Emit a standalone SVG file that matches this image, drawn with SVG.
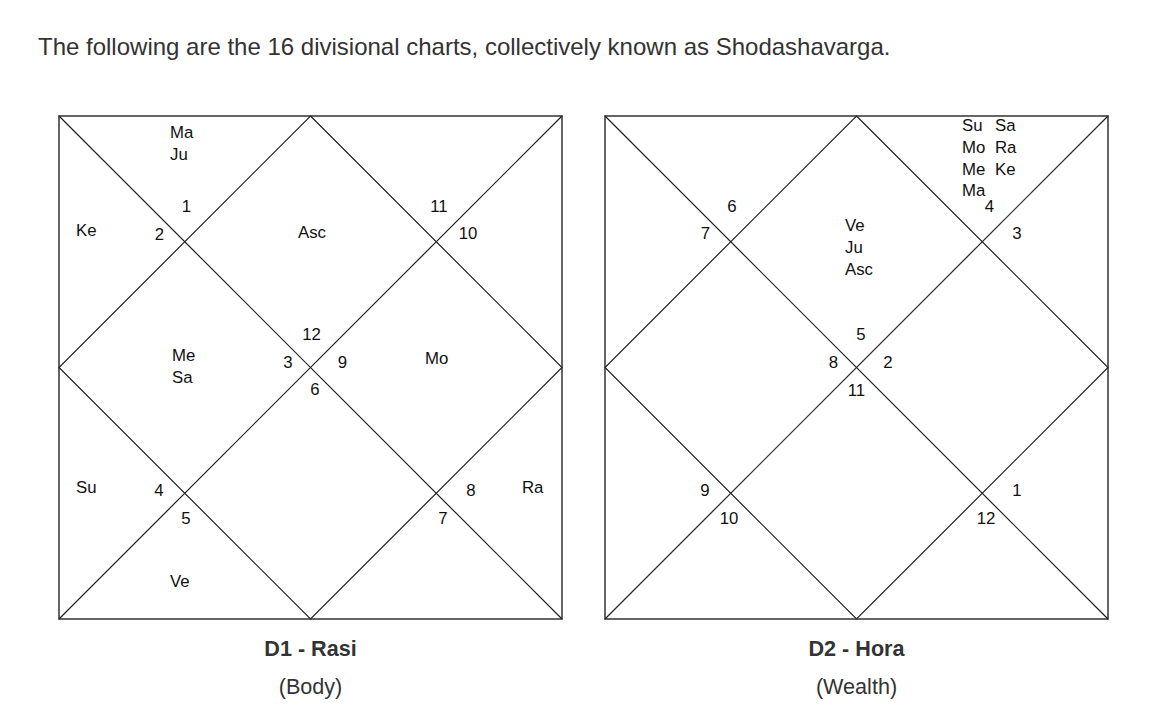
<svg xmlns="http://www.w3.org/2000/svg" width="1151" height="724" viewBox="0 0 1151 724">
<style>
text{font-family:"Liberation Sans",Arial,sans-serif;}
.title{font-size:24px;fill:#333;}
.t{font-size:16.8px;fill:#111;}
.n{font-size:16.8px;fill:#111;text-anchor:middle;}
.lbl{font-size:21.6px;fill:#333;text-anchor:middle;font-weight:bold;}
.sub{font-size:21.6px;fill:#333;text-anchor:middle;}
.border{fill:none;stroke:#555;stroke-width:1.8;}
.ln{fill:none;stroke:#222;stroke-width:1.2;}
</style>
<defs>
<g id="chartLines">
<rect class="border" x="0" y="0" width="503" height="503"/>
<line class="ln" x1="0" y1="0" x2="503" y2="503"/>
<line class="ln" x1="503" y1="0" x2="0" y2="503"/>
<polygon class="ln" points="251.5,0 503,251.5 251.5,503 0,251.5"/>
</g>
</defs>
<rect x="0" y="0" width="1151" height="724" fill="#fff"/>
<text id="title" class="title" x="38" y="55">The following are the 16 divisional charts, collectively known as Shodashavarga.</text>

<g id="connectors">
<use href="#chartLines" x="59" y="116"/>
<use href="#chartLines" x="605" y="116"/>
</g>

<g id="chart-d1">
<text class="t" x="170" y="138">Ma</text>
<text class="t" x="170" y="159.5">Ju</text>
<text class="t" x="76" y="236">Ke</text>
<text class="t" x="298" y="237.5">Asc</text>
<text class="t" x="172" y="361">Me</text>
<text class="t" x="172" y="383">Sa</text>
<text class="t" x="425" y="364">Mo</text>
<text class="t" x="76" y="493">Su</text>
<text class="t" x="522" y="493">Ra</text>
<text class="t" x="170" y="587">Ve</text>
<text class="n" x="186.5" y="212">1</text>
<text class="n" x="159.5" y="239.5">2</text>
<text class="n" x="439" y="212">11</text>
<text class="n" x="468" y="239">10</text>
<text class="n" x="311.5" y="340">12</text>
<text class="n" x="288" y="367.5">3</text>
<text class="n" x="342.5" y="367.5">9</text>
<text class="n" x="315" y="395">6</text>
<text class="n" x="159" y="496">4</text>
<text class="n" x="186" y="524">5</text>
<text class="n" x="471" y="496">8</text>
<text class="n" x="443" y="524">7</text>
<text class="lbl" x="310.5" y="656">D1 - Rasi</text>
<text class="sub" x="310.5" y="694">(Body)</text>
</g>

<g id="chart-d2">
<text class="t" x="962" y="131">Su</text>
<text class="t" x="995" y="131">Sa</text>
<text class="t" x="962" y="153">Mo</text>
<text class="t" x="995" y="153">Ra</text>
<text class="t" x="962" y="174.5">Me</text>
<text class="t" x="995" y="174.5">Ke</text>
<text class="t" x="962" y="196">Ma</text>
<text class="t" x="845" y="231">Ve</text>
<text class="t" x="845" y="253">Ju</text>
<text class="t" x="845" y="275">Asc</text>
<text class="n" x="989.5" y="212">4</text>
<text class="n" x="1017" y="238.5">3</text>
<text class="n" x="732" y="212">6</text>
<text class="n" x="705.5" y="239">7</text>
<text class="n" x="861" y="340">5</text>
<text class="n" x="833.5" y="368">8</text>
<text class="n" x="888" y="368">2</text>
<text class="n" x="856.5" y="396">11</text>
<text class="n" x="705" y="496">9</text>
<text class="n" x="729" y="524">10</text>
<text class="n" x="1017" y="496">1</text>
<text class="n" x="986" y="524">12</text>
<text class="lbl" x="856.5" y="656">D2 - Hora</text>
<text class="sub" x="856.5" y="694">(Wealth)</text>
</g>
</svg>
